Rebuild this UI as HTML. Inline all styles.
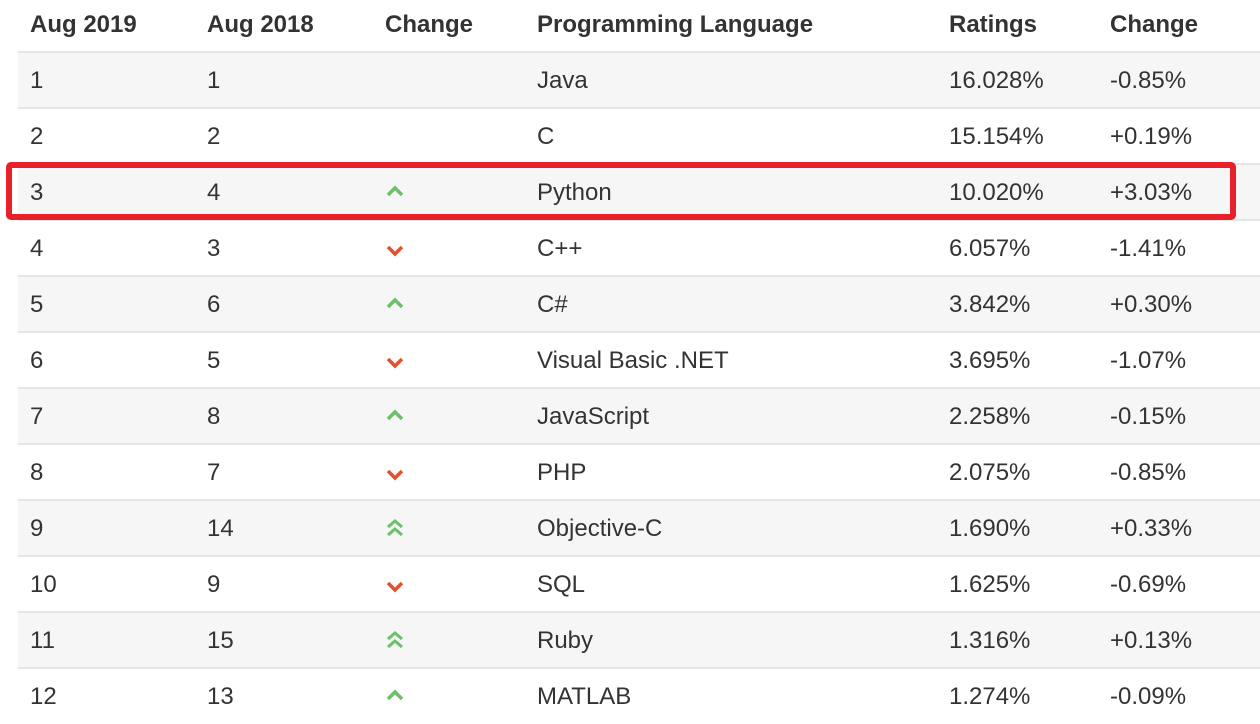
<!DOCTYPE html>
<html><head><style>
body{margin:0;width:1260px;height:718px;background:#fff;overflow:hidden;font-family:"Liberation Sans",Arial,sans-serif;color:#333;position:relative}
.row{position:absolute;left:18px;width:1242px;height:55px;border-top:2px solid #e6e6e6;font-size:24px}
.row.g{background:#f6f6f6}
.c{position:absolute;top:0;line-height:55px}
.h{position:absolute;top:0;font-size:24px;font-weight:bold;line-height:50px;color:#333}
svg{position:absolute;left:368px;top:18px}
.box{position:absolute;left:6px;top:162px;width:1218px;height:46px;border:6px solid #e8202a;border-radius:5px}
</style></head><body>
<div class="h" style="left:30px">Aug 2019</div>
<div class="h" style="left:207px">Aug 2018</div>
<div class="h" style="left:385px">Change</div>
<div class="h" style="left:537px">Programming Language</div>
<div class="h" style="left:949px">Ratings</div>
<div class="h" style="left:1110px">Change</div>

<div class="row g" style="top:51px"><span class="c" style="left:12px">1</span><span class="c" style="left:189px">1</span><span class="c" style="left:519px">Java</span><span class="c" style="left:931px">16.028%</span><span class="c" style="left:1092px">-0.85%</span></div>
<div class="row" style="top:107px"><span class="c" style="left:12px">2</span><span class="c" style="left:189px">2</span><span class="c" style="left:519px">C</span><span class="c" style="left:931px">15.154%</span><span class="c" style="left:1092px">+0.19%</span></div>
<div class="row g" style="top:163px"><span class="c" style="left:12px">3</span><span class="c" style="left:189px">4</span><svg width="18" height="18"><path d="M2 12 L9 5 L16 12" stroke="#6cbf6c" stroke-width="3.5" fill="none"/></svg><span class="c" style="left:519px">Python</span><span class="c" style="left:931px">10.020%</span><span class="c" style="left:1092px">+3.03%</span></div>
<div class="row" style="top:219px"><span class="c" style="left:12px">4</span><span class="c" style="left:189px">3</span><svg width="18" height="18" style="top:20px"><path d="M2 6 L9 13 L16 6" stroke="#e4502f" stroke-width="3.5" fill="none"/></svg><span class="c" style="left:519px">C++</span><span class="c" style="left:931px">6.057%</span><span class="c" style="left:1092px">-1.41%</span></div>
<div class="row g" style="top:275px"><span class="c" style="left:12px">5</span><span class="c" style="left:189px">6</span><svg width="18" height="18"><path d="M2 12 L9 5 L16 12" stroke="#6cbf6c" stroke-width="3.5" fill="none"/></svg><span class="c" style="left:519px">C#</span><span class="c" style="left:931px">3.842%</span><span class="c" style="left:1092px">+0.30%</span></div>
<div class="row" style="top:331px"><span class="c" style="left:12px">6</span><span class="c" style="left:189px">5</span><svg width="18" height="18" style="top:20px"><path d="M2 6 L9 13 L16 6" stroke="#e4502f" stroke-width="3.5" fill="none"/></svg><span class="c" style="left:519px">Visual Basic .NET</span><span class="c" style="left:931px">3.695%</span><span class="c" style="left:1092px">-1.07%</span></div>
<div class="row g" style="top:387px"><span class="c" style="left:12px">7</span><span class="c" style="left:189px">8</span><svg width="18" height="18"><path d="M2 12 L9 5 L16 12" stroke="#6cbf6c" stroke-width="3.5" fill="none"/></svg><span class="c" style="left:519px">JavaScript</span><span class="c" style="left:931px">2.258%</span><span class="c" style="left:1092px">-0.15%</span></div>
<div class="row" style="top:443px"><span class="c" style="left:12px">8</span><span class="c" style="left:189px">7</span><svg width="18" height="18" style="top:20px"><path d="M2 6 L9 13 L16 6" stroke="#e4502f" stroke-width="3.5" fill="none"/></svg><span class="c" style="left:519px">PHP</span><span class="c" style="left:931px">2.075%</span><span class="c" style="left:1092px">-0.85%</span></div>
<div class="row g" style="top:499px"><span class="c" style="left:12px">9</span><span class="c" style="left:189px">14</span><svg width="18" height="22" style="top:16px"><path d="M2 10 L9 4 L16 10 M2 18 L9 12 L16 18" stroke="#6cbf6c" stroke-width="3" fill="none"/></svg><span class="c" style="left:519px">Objective-C</span><span class="c" style="left:931px">1.690%</span><span class="c" style="left:1092px">+0.33%</span></div>
<div class="row" style="top:555px"><span class="c" style="left:12px">10</span><span class="c" style="left:189px">9</span><svg width="18" height="18" style="top:20px"><path d="M2 6 L9 13 L16 6" stroke="#e4502f" stroke-width="3.5" fill="none"/></svg><span class="c" style="left:519px">SQL</span><span class="c" style="left:931px">1.625%</span><span class="c" style="left:1092px">-0.69%</span></div>
<div class="row g" style="top:611px"><span class="c" style="left:12px">11</span><span class="c" style="left:189px">15</span><svg width="18" height="22" style="top:16px"><path d="M2 10 L9 4 L16 10 M2 18 L9 12 L16 18" stroke="#6cbf6c" stroke-width="3" fill="none"/></svg><span class="c" style="left:519px">Ruby</span><span class="c" style="left:931px">1.316%</span><span class="c" style="left:1092px">+0.13%</span></div>
<div class="row" style="top:667px"><span class="c" style="left:12px">12</span><span class="c" style="left:189px">13</span><svg width="18" height="18"><path d="M2 12 L9 5 L16 12" stroke="#6cbf6c" stroke-width="3.5" fill="none"/></svg><span class="c" style="left:519px">MATLAB</span><span class="c" style="left:931px">1.274%</span><span class="c" style="left:1092px">-0.09%</span></div>

<div class="box"></div>
</body></html>
